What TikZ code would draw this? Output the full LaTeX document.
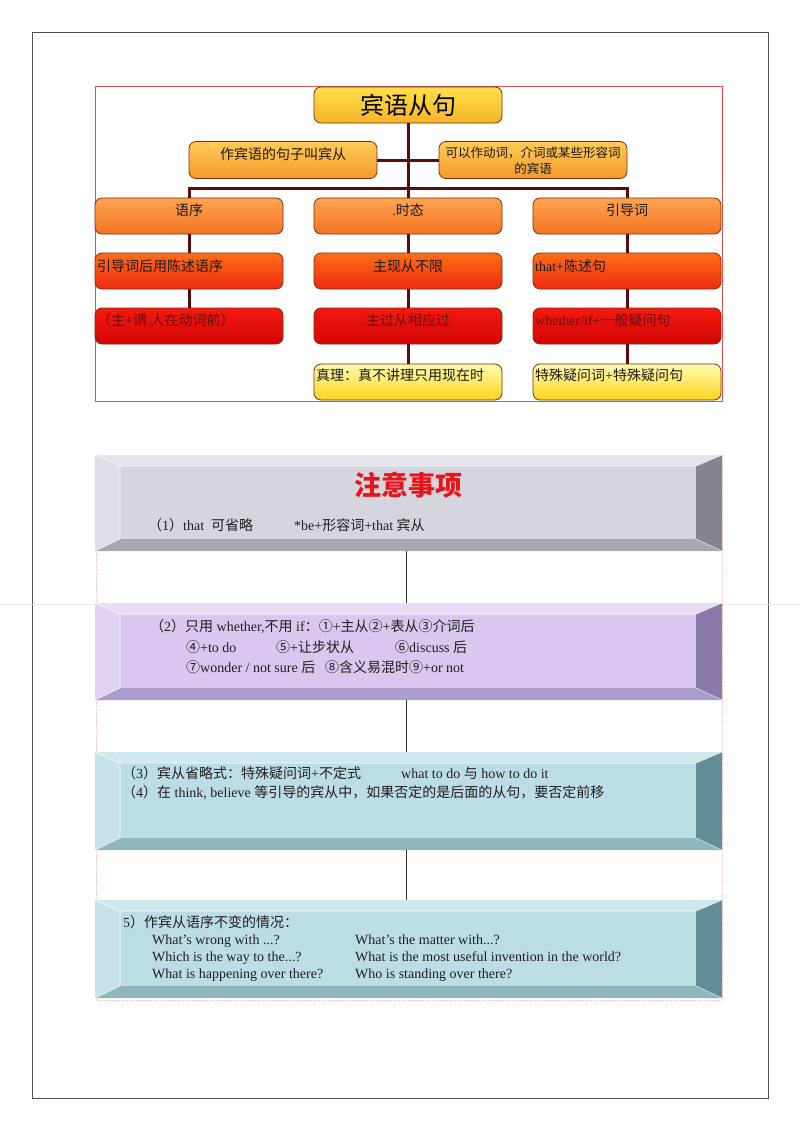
\documentclass[tikz,border=0pt]{standalone}
\usepackage{fontspec}
\setmainfont{Liberation Serif}
\newfontfamily\cjk{Noto Sans CJK SC}
\newcommand{\zh}[1]{{\cjk #1}}
\usetikzlibrary{calc}
% tree colours
\definecolor{boxedge}{HTML}{7A2E08}
\definecolor{connc}{HTML}{5A0C0C}
\definecolor{framered}{HTML}{D85050}
\definecolor{titletop}{HTML}{FFE24A}
\definecolor{titlebot}{HTML}{F6B22A}
\definecolor{rtwotop}{HTML}{FFCC55}
\definecolor{rtwobot}{HTML}{F5982E}
\definecolor{rthreetop}{HTML}{FFA452}
\definecolor{rthreebot}{HTML}{F27422}
\definecolor{rfourtop}{HTML}{FF6E18}
\definecolor{rfourbot}{HTML}{EE2A10}
\definecolor{rfivetop}{HTML}{F41A10}
\definecolor{rfivebot}{HTML}{D20404}
\definecolor{rsixtop}{HTML}{FFFDB0}
\definecolor{rsixbot}{HTML}{FFD41E}
\definecolor{darkred}{HTML}{6E0A0A}
% bevel colours
\definecolor{grayface}{HTML}{D5D5DE}
\definecolor{graytop}{HTML}{E4E4EC}
\definecolor{grayleft}{HTML}{DDDDE5}
\definecolor{grayright}{HTML}{84848E}
\definecolor{graybot}{HTML}{A8A8B2}
\definecolor{lavface}{HTML}{D9C7EF}
\definecolor{lavtop}{HTML}{E8DCF7}
\definecolor{lavleft}{HTML}{E1D3F3}
\definecolor{lavright}{HTML}{8A7AAA}
\definecolor{lavbot}{HTML}{AC9CCA}
\definecolor{bluface}{HTML}{BCDDE4}
\definecolor{blutop}{HTML}{CFE8ED}
\definecolor{bluleft}{HTML}{C7E3E9}
\definecolor{bluright}{HTML}{628E98}
\definecolor{blubot}{HTML}{8FB6BF}
\definecolor{titlered}{HTML}{E8141A}
\definecolor{faintpink}{HTML}{F2C4C4}
\definecolor{faintgray}{HTML}{E2E2E2}
\definecolor{pagegray}{HTML}{505050}

\newcommand{\bevelbox}[6]{%
  \node[inner sep=0pt, minimum width={#4-#2}, minimum height={#5-#3}] (#1) at ({(#2+#4)/2},{(#3+#5)/2}) {};
  \fill[#6face] (#2+25,#3+11) rectangle (#4-26,#5-12);
  \fill[#6top] (#2,#3) -- (#4,#3) -- (#4-26,#3+11) -- (#2+25,#3+11) -- cycle;
  \fill[#6left] (#2,#3) -- (#2+25,#3+11) -- (#2+25,#5-12) -- (#2,#5) -- cycle;
  \fill[#6right] (#4,#3) -- (#4,#5) -- (#4-26,#5-12) -- (#4-26,#3+11) -- cycle;
  \fill[#6bot] (#2,#5) -- (#2+25,#5-12) -- (#4-26,#5-12) -- (#4,#5) -- cycle;
  \draw[white, line width=0.6pt, opacity=0.8] (#2,#3) -- (#2+25,#3+11) -- (#4-26,#3+11) -- (#4,#3);
  \draw[white, line width=0.6pt, opacity=0.8] (#2+25,#3+11) -- (#2+25,#5-12) -- (#2,#5);
  \draw[white, line width=0.6pt, opacity=0.6] (#4-26,#5-12) -- (#4,#5);
}

\begin{document}
\begin{tikzpicture}[x=1pt, y=-1pt,
  treebox/.style={draw=boxedge, line width=0.8pt, rounded corners=7pt,
    minimum width=188pt, minimum height=36pt, inner sep=0pt},
  conn/.style={draw=connc, line width=3pt},
  thinconn/.style={draw=black!80, line width=0.9pt},
  tt/.style={inner sep=0pt, font=\fontsize{14}{17}\selectfont, text=black!90},
  bt/.style={inner sep=0pt, anchor=west, font=\fontsize{14}{17}\selectfont, text=black!88}
]
\useasboundingbox (0,0) rectangle (800,1132);
\fill[white] (0,0) rectangle (800,1132);
\draw[pagegray, line width=0.8pt] (32,32) rectangle (768,1098);

% ---------- tree ----------
\draw[framered, line width=0.8pt] (95,86) rectangle (722,401);

\node[treebox, top color=titletop, bottom color=titlebot] (T) at (408,105) {};
\node[treebox, top color=rtwotop, bottom color=rtwobot, minimum height=37pt] (L2) at (283,160) {};
\node[treebox, top color=rtwotop, bottom color=rtwobot, minimum height=37pt] (R2) at (533,160) {};

\foreach \c/\x in {1/189,2/408,3/627}{
  \node[treebox, top color=rthreetop, bottom color=rthreebot] (A\c) at (\x,216) {};
  \node[treebox, top color=rfourtop, bottom color=rfourbot] (B\c) at (\x,271) {};
  \node[treebox, top color=rfivetop, bottom color=rfivebot] (C\c) at (\x,326) {};
}
\node[treebox, top color=rsixtop, bottom color=rsixbot] (D2) at (408,382) {};
\node[treebox, top color=rsixtop, bottom color=rsixbot] (D3) at (627,382) {};

% connectors
\draw[conn] (T.south) -- (A2.north);
\draw[conn] (L2.east) -- (R2.west);
\draw[conn] (A1.north) -- ++(0,-9) -| (A3.north);
\foreach \c in {1,2,3}{
  \draw[conn] (A\c.south) -- (B\c.north);
  \draw[conn] (B\c.south) -- (C\c.north);
}
\draw[conn] (C2.south) -- (D2.north);
\draw[conn] (C3.south) -- (D3.north);

% tree texts
\node[inner sep=0pt, font=\fontsize{24}{24}\selectfont] (Tt) at (408,105) {\zh{宾语从句}};
\node[tt] (L2t) at (283,154) {\zh{作宾语的句子叫宾从}};
\node[tt, align=center, font=\fontsize{12.5}{16}\selectfont] (R2t) at (533,161) {\zh{可以作动词，介词或某些形容词}\\\zh{的宾语}};
\node[tt] (A1t) at (189,210) {\zh{语序}};
\node[tt] (A2t) at (408,210) {.\zh{时态}};
\node[tt] (A3t) at (627,210) {\zh{引导词}};
\node[tt, anchor=west] (B1t) at (97,266) {\zh{引导词后用陈述语序}};
\node[tt] (B2t) at (408,266) {\zh{主现从不限}};
\node[tt, anchor=west] (B3t) at (535,266) {that+\zh{陈述句}};
\node[tt, anchor=west, text=darkred] (C1t) at (97,320) {\zh{（主}+\zh{谓}.\zh{人在动词前）}};
\node[tt, text=darkred] (C2t) at (408,320) {\zh{主过从相应过}};
\node[tt, anchor=west, text=darkred] (C3t) at (535,320) {whether/if+\zh{一般疑问句}};
\node[tt, anchor=west] (D2t) at (316,375) {\zh{真理：真不讲理只用现在时}};
\node[tt, anchor=west] (D3t) at (535,375) {\zh{特殊疑问词}+\zh{特殊疑问句}};

% ---------- notes ----------
\draw[faintgray, densely dotted, line width=0.6pt] (0,604) -- (800,604);
\draw[faintpink, densely dotted, line width=0.7pt] (96,455) rectangle (722,1000);

\bevelbox{N1}{95}{455}{722}{551}{gray}
\bevelbox{N2}{95}{603}{722}{700}{lav}
\bevelbox{N3}{95}{752}{722}{850}{blu}
\bevelbox{N4}{95}{900}{722}{998}{blu}

\draw[thinconn] ($(N1.south)+(-2,0)$) -- ($(N2.north)+(-2,0)$);
\draw[thinconn] ($(N2.south)+(-2,0)$) -- ($(N3.north)+(-2,0)$);
\draw[thinconn] ($(N3.south)+(-2,0)$) -- ($(N4.north)+(-2,0)$);

\node[inner sep=0pt, text=titlered, font=\fontsize{27}{27}\selectfont\bfseries] (N1h) at (408,485) {\zh{注意事项}};
\node[bt] (N1a) at (148,525) {\makebox[146pt][l]{\zh{（}1\zh{）}that\ \ \zh{可省略}}*be+\zh{形容词}+that \zh{宾从}};

\node[bt] (N2a) at (150,627) {\zh{（}2\zh{）只用} whether,\zh{不用} if\zh{：①}+\zh{主从②}+\zh{表从③介词后}};
\node[bt] (N2b) at (186,647) {\makebox[90pt][l]{\zh{④}+to do}\makebox[119pt][l]{\zh{⑤}+\zh{让步状从}}\zh{⑥}discuss \zh{后}};
\node[bt] (N2c) at (186,667) {\makebox[139pt][l]{\zh{⑦}wonder / not sure \zh{后}}\zh{⑧含义易混时⑨}+or not};

\node[bt] (N3a) at (122,773) {\makebox[279pt][l]{\zh{（}3\zh{）宾从省略式：特殊疑问词}+\zh{不定式}}what to do \zh{与} how to do it};
\node[bt] (N3b) at (122,793) {\zh{（}4\zh{）在} think, believe \zh{等引导的宾从中，如果否定的是后面的从句，要否定前移}};

\node[bt] (N4a) at (123,922) {5\zh{）作宾从语序不变的情况：}};
\node[bt] (N4b) at (152,941) {\makebox[203pt][l]{What’s wrong with ...?}What’s the matter with...?};
\node[bt] (N4c) at (152,958) {\makebox[203pt][l]{Which is the way to the...?}What is the most useful invention in the world?};
\node[bt] (N4d) at (152,975) {\makebox[203pt][l]{What is happening over there?}Who is standing over there?};
\end{tikzpicture}
\end{document}
